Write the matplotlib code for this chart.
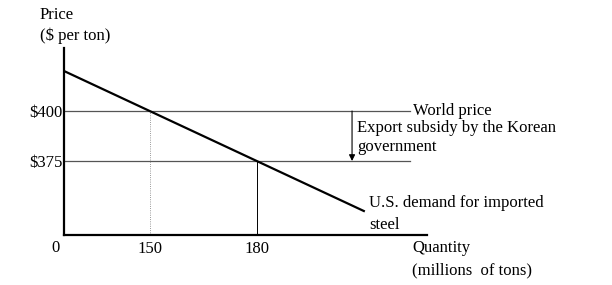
import matplotlib
matplotlib.use("Agg")
import matplotlib.pyplot as plt

plt.rcParams['font.family'] = ['Liberation Serif', 'DejaVu Serif']

# values (quantity axis origin sits at q=126)
demand_q = [126, 210]
demand_p = [420, 350]
world_price = 400
subsidized_price = 375
qty_ticks = [150, 180]
qty_labels = ['150', '180']
price_ticks = [400, 375]
price_labels = ['$400', '$375']

x_min, x_max = 126, 227.7
y_min, y_max = 338, 431.5
line_end = 223

fig = plt.figure(figsize=(6.12, 2.85), dpi=100)
ax = fig.add_axes([64 / 612, 50 / 285, 363 / 612, 187 / 285])
ax.set_xlim(x_min, x_max)
ax.set_ylim(y_min, y_max)

for s in ['top', 'right']:
    ax.spines[s].set_visible(False)
for s in ['left', 'bottom']:
    ax.spines[s].set_linewidth(1.6)

fs = 12

# price lines
ax.plot([x_min, line_end], [world_price, world_price], color='#555555', lw=0.9)
ax.plot([x_min, line_end], [subsidized_price, subsidized_price], color='#555555', lw=0.9)

# quantity drop lines
ax.plot([qty_ticks[0], qty_ticks[0]], [y_min, world_price], color='#777777', lw=0.6, ls=':')
ax.plot([qty_ticks[1], qty_ticks[1]], [y_min, subsidized_price], color='black', lw=0.7)

# demand curve
ax.plot(demand_q, demand_p, color='black', lw=1.6)

# subsidy arrow
ax.annotate('', xy=(206.7, subsidized_price), xytext=(206.7, world_price),
            arrowprops=dict(arrowstyle='-|>', color='black', lw=0.8,
                            mutation_scale=9, shrinkA=0, shrinkB=0))

ax.set_xticks(qty_ticks)
ax.set_xticklabels(qty_labels, fontsize=fs)
ax.set_yticks(price_ticks)
ax.set_yticklabels(price_labels, fontsize=fs)
ax.tick_params(length=0, pad=4)
ax.tick_params(axis='y', pad=1)

ax.text(x_min - 2.5, 331.5, '0', fontsize=fs, ha='center', va='center', clip_on=False)
ax.text(223.8, world_price, 'World price', fontsize=fs, ha='left', va='center', clip_on=False)
ax.text(208.1, 391.5, 'Export subsidy by the Korean', fontsize=fs, ha='left', va='center', clip_on=False)
ax.text(208.1, 382, 'government', fontsize=fs, ha='left', va='center', clip_on=False)
ax.text(211.4, 354, 'U.S. demand for imported', fontsize=fs, ha='left', va='center', clip_on=False)
ax.text(211.4, 343, 'steel', fontsize=fs, ha='left', va='center', clip_on=False)
ax.text(223.5, 331.5, 'Quantity', fontsize=fs, ha='left', va='center', clip_on=False)
ax.text(223.5, 320.5, '(millions  of tons)', fontsize=fs, ha='left', va='center', clip_on=False)

fig.text(40 / 612, 1 - 15 / 285, 'Price', fontsize=fs, ha='left', va='center')
fig.text(40 / 612, 1 - 36 / 285, '($ per ton)', fontsize=fs, ha='left', va='center')

fig.savefig('out.png', dpi=100)
